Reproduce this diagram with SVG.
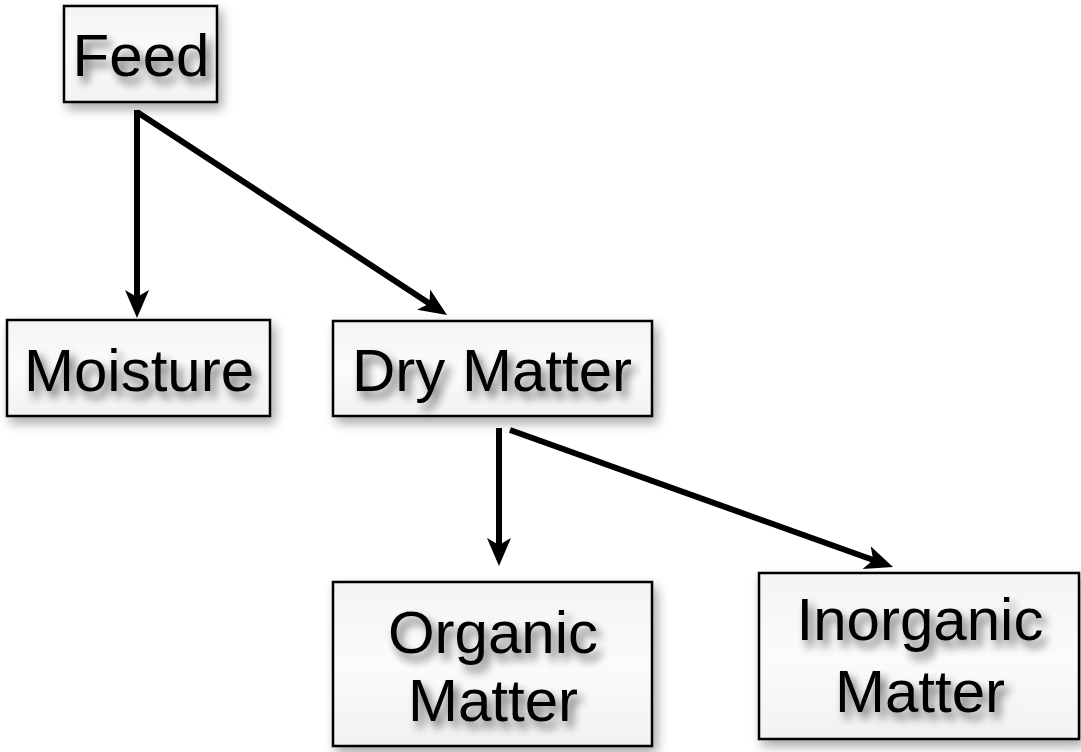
<svg xmlns="http://www.w3.org/2000/svg" width="1081" height="752" viewBox="0 0 1081 752">
<defs>
<linearGradient id="bg" x1="0" y1="0" x2="0" y2="1">
<stop offset="0" stop-color="#f4f4f4"/>
<stop offset="0.5" stop-color="#fbfbfb"/>
<stop offset="1" stop-color="#f2f2f2"/>
</linearGradient>
<filter id="boxsh" x="-20%" y="-20%" width="140%" height="150%">
<feGaussianBlur in="SourceAlpha" stdDeviation="6"/>
<feOffset dx="4" dy="6" result="b"/>
<feComponentTransfer><feFuncA type="linear" slope="0.35"/></feComponentTransfer>
<feMerge><feMergeNode/><feMergeNode in="SourceGraphic"/></feMerge>
</filter>
<filter id="txtsh" x="-20%" y="-30%" width="140%" height="170%">
<feGaussianBlur in="SourceAlpha" stdDeviation="5"/>
<feOffset dx="5" dy="7"/>
<feComponentTransfer><feFuncA type="linear" slope="0.6"/></feComponentTransfer>
<feMerge><feMergeNode/><feMergeNode in="SourceGraphic"/></feMerge>
</filter>
<marker id="ah" markerUnits="userSpaceOnUse" markerWidth="32" markerHeight="32" viewBox="0 0 32 32" refX="16" refY="16" orient="auto">
<path d="M0,4 L28,16 L0,28 L7,16 Z" fill="#000"/>
</marker>
<style>
.box{fill:url(#bg);stroke:#000;stroke-width:2.5;filter:url(#boxsh)}
.lbl{font-family:"Liberation Sans",Arial,sans-serif;font-size:60px;fill:#000;text-anchor:middle;filter:url(#txtsh)}
.conn{stroke:#000;stroke-width:6;fill:none;marker-end:url(#ah)}
</style>
</defs>
<rect width="1081" height="752" fill="#fff"/>
<g id="connectors">
<line class="conn" x1="137" y1="110" x2="137" y2="306"/>
<line class="conn" x1="137" y1="112" x2="437" y2="308.4"/>
<line class="conn" x1="499" y1="428" x2="499" y2="554"/>
<line class="conn" x1="510" y1="430" x2="881.7" y2="563"/>
</g>
<g id="feed">
<rect class="box" x="64" y="6" width="153" height="96"/>
<text class="lbl" x="141" y="76">Feed</text>
</g>
<g id="moisture">
<rect class="box" x="7" y="320" width="263" height="96"/>
<text class="lbl" x="139" y="391">Moisture</text>
</g>
<g id="drymatter">
<rect class="box" x="333" y="321" width="319" height="95"/>
<text class="lbl" x="492" y="391">Dry Matter</text>
</g>
<g id="organic">
<rect class="box" x="333" y="582" width="319" height="164"/>
<text class="lbl" x="493" y="653">Organic</text>
<text class="lbl" x="493" y="721">Matter</text>
</g>
<g id="inorganic">
<rect class="box" x="759" y="573" width="320" height="166"/>
<text class="lbl" x="920" y="640">Inorganic</text>
<text class="lbl" x="920" y="712">Matter</text>
</g>
</svg>
